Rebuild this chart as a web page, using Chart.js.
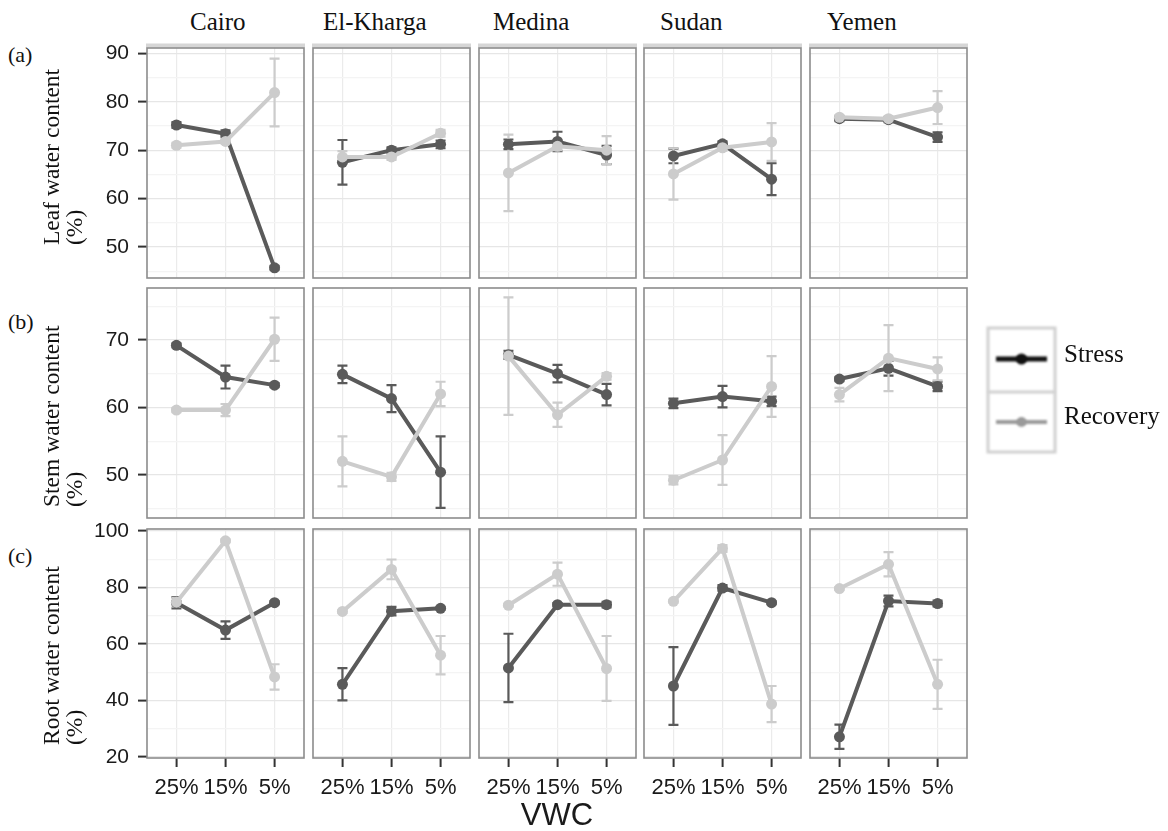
<!DOCTYPE html>
<html>
<head>
<meta charset="utf-8">
<script src="https://cdn.jsdelivr.net/npm/chart.js@4.4.1/dist/chart.umd.min.js"></script>
<style>
  body { margin: 0; background: #fff; }
  #page { position: relative; width: 1168px; height: 831px; overflow: hidden; background: #fff; }
  #page canvas { position: absolute; }
  .txt { position: absolute; white-space: nowrap; line-height: 1; color: #111; }
  .serif { font-family: "Liberation Serif", "Times New Roman", serif; }
  .sans { font-family: "Liberation Sans", Arial, sans-serif; }
  .vert { transform-origin: 0 0; transform: rotate(-90deg); line-height: 23px; font-size: 23.5px; }
</style>
</head>
<body>
<div id="page"></div>
<script>
// sites (facet columns) and soil moisture levels (x axis)
const sites = ['Cairo', 'El-Kharga', 'Medina', 'Sudan', 'Yemen'];
const vwcLabels = ['25%', '15%', '5%'];

// tick labels for each row
const leafTicks = [50, 60, 70, 80, 90];
const stemTicks = [50, 60, 70];
const rootTicks = [20, 40, 60, 80, 100];

// leaf water content (%), one row per site, values at 25% / 15% / 5%
const leafStress      = [[75.2, 73.4, 45.7], [67.5, 70.0, 71.2], [71.2, 71.8, 69.0], [68.8, 71.3, 64.0], [76.5, 76.3, 72.7]];
const leafStressErr   = [[0.6, 0.7, 0.4], [4.6, 0.6, 0.8], [1.0, 2.0, 1.9], [1.5, 0.5, 3.3], [0.5, 0.5, 1.0]];
const leafRecovery    = [[71.0, 71.8, 81.9], [68.6, 68.6, 73.5], [65.3, 70.8, 70.0], [65.1, 70.5, 71.7], [76.8, 76.5, 78.8]];
const leafRecoveryErr = [[0.5, 0.4, 7.0], [1.2, 0.6, 0.7], [7.9, 0.8, 2.9], [5.3, 0.6, 3.9], [0.4, 0.5, 3.4]];

// stem water content (%)
const stemStress      = [[69.2, 64.5, 63.3], [64.9, 61.3, 50.4], [67.8, 65.0, 61.9], [60.6, 61.6, 60.9], [64.2, 65.8, 63.1]];
const stemStressErr   = [[0.3, 1.7, 0.3], [1.3, 2.0, 5.3], [0.6, 1.3, 1.6], [0.7, 1.6, 0.7], [0.3, 1.1, 0.7]];
const stemRecovery    = [[59.6, 59.6, 70.1], [52.0, 49.7, 62.0], [67.6, 58.9, 64.6], [49.2, 52.2, 63.1], [61.9, 67.3, 65.7]];
const stemRecoveryErr = [[0.3, 0.9, 3.2], [3.7, 0.6, 1.8], [8.7, 1.8, 0.5], [0.6, 3.7, 4.5], [1.0, 4.9, 1.7]];

// root water content (%)
const rootStress      = [[74.6, 64.9, 74.6], [45.7, 71.6, 72.6], [51.5, 73.9, 73.9], [45.1, 79.8, 74.6], [27.1, 75.2, 74.3]];
const rootStressErr   = [[2.0, 3.1, 0.5], [5.7, 1.5, 0.5], [12.1, 0.6, 1.0], [13.8, 1.0, 0.5], [4.3, 1.9, 1.0]];
const rootRecovery    = [[74.8, 96.5, 48.3], [71.5, 86.4, 56.0], [73.7, 84.7, 51.3], [75.1, 93.8, 38.7], [79.6, 88.2, 45.7]];
const rootRecoveryErr = [[1.5, 0.5, 4.5], [0.5, 3.5, 6.8], [0.5, 4.1, 11.5], [0.5, 1.2, 6.4], [0.5, 4.3, 8.7]];

const STRESS_COLOR = '#5a5a5a';
const RECOVERY_COLOR = '#cccccc';

const page = document.getElementById('page');

// panel grid geometry
const PANEL_W = 157;
const panelLeft = [147, 313, 479, 644, 810];
const rows = [
  { top: 48,  h: 230, min: 43.6, max: 91.1,  ticks: leafTicks, minor: 5,
    stress: leafStress, stressErr: leafStressErr, recovery: leafRecovery, recoveryErr: leafRecoveryErr },
  { top: 288, h: 230, min: 43.6, max: 77.7,  ticks: stemTicks, minor: 5,
    stress: stemStress, stressErr: stemStressErr, recovery: stemRecovery, recoveryErr: stemRecoveryErr },
  { top: 529, h: 229, min: 19.6, max: 100.7, ticks: rootTicks, minor: 10,
    stress: rootStress, stressErr: rootStressErr, recovery: rootRecovery, recoveryErr: rootRecoveryErr }
];

// vertical error bars with small caps, drawn under the lines
const errorBars = {
  id: 'errorBars',
  beforeDatasetsDraw(chart) {
    const { ctx, scales: { x, y } } = chart;
    ctx.save();
    chart.data.datasets.forEach(ds => {
      ctx.strokeStyle = ds.borderColor;
      ctx.lineWidth = 2.2;
      ds.data.forEach((p, i) => {
        const e = ds.errors[i];
        const px = x.getPixelForValue(p.x);
        const y1 = y.getPixelForValue(p.y + e);
        const y2 = y.getPixelForValue(p.y - e);
        ctx.beginPath();
        ctx.moveTo(px, y1); ctx.lineTo(px, y2);
        ctx.moveTo(px - 5, y1); ctx.lineTo(px + 5, y1);
        ctx.moveTo(px - 5, y2); ctx.lineTo(px + 5, y2);
        ctx.stroke();
      });
    });
    ctx.restore();
  }
};

// panel outline, plus the thin strip above the top row
const panelFrame = {
  id: 'panelFrame',
  afterDraw(chart, args, opts) {
    const { ctx, chartArea: a } = chart;
    ctx.save();
    if (opts.strip) {
      ctx.fillStyle = '#d6d6d6';
      ctx.fillRect(a.left - 1, a.top - 4.5, a.right - a.left + 2, 4);
    }
    ctx.strokeStyle = '#8c8c8c';
    ctx.lineWidth = 1.6;
    ctx.strokeRect(a.left, a.top, a.right - a.left, a.bottom - a.top);
    ctx.restore();
  }
};

// keep the plot area fixed: no extra room for the end labels
function noPadding(s) {
  s.paddingTop = 0; s.paddingBottom = 0; s.paddingLeft = 0; s.paddingRight = 0;
}

function series(vals, errs, color, order) {
  return {
    data: vwcLabels.map((_, i) => ({ x: i + 1, y: vals[i] })),
    errors: errs,
    borderColor: color,
    backgroundColor: color,
    borderWidth: 4,
    pointRadius: 5.5,
    pointBorderWidth: 0,
    pointBackgroundColor: color,
    order: order
  };
}

function makePanel(r, c) {
  const m = rows[r];
  const first = c === 0, last = r === rows.length - 1;
  const yW = first ? 70 : 0, xH = last ? 50 : 0;
  const pl = first ? 0 : 3, pr = 3, pt = 12, pb = last ? 0 : 3;

  const canvas = document.createElement('canvas');
  canvas.width = pl + yW + PANEL_W + pr;
  canvas.height = pt + m.h + xH + pb;
  canvas.style.left = (panelLeft[c] - pl - yW) + 'px';
  canvas.style.top = (m.top - pt) + 'px';
  page.appendChild(canvas);

  // major ticks plus the minor lines halfway between them
  const yTicks = [];
  m.ticks.forEach(v => {
    [v - m.minor, v, v + m.minor].forEach(t => {
      if (t >= m.min && t <= m.max && !yTicks.includes(t)) yTicks.push(t);
    });
  });
  const isMajor = v => m.ticks.includes(v);

  new Chart(canvas, {
    type: 'line',
    data: {
      datasets: [
        series(m.stress[c], m.stressErr[c], STRESS_COLOR, 1),
        series(m.recovery[c], m.recoveryErr[c], RECOVERY_COLOR, 0)
      ]
    },
    options: {
      responsive: false,
      animation: false,
      events: [],
      layout: { autoPadding: false, padding: { top: pt, left: pl, right: pr, bottom: pb } },
      plugins: { legend: { display: false }, tooltip: { enabled: false }, panelFrame: { strip: r === 0 } },
      scales: {
        x: {
          type: 'linear', min: 0.4, max: 3.6,
          afterBuildTicks: s => { s.ticks = [1, 2, 3].map(v => ({ value: v })); },
          afterFit: s => { s.height = xH; noPadding(s); },
          ticks: {
            display: last, autoSkip: false, maxRotation: 0, padding: 8, color: '#1a1a1a',
            font: { family: '"Liberation Sans", Arial, sans-serif', size: 22 },
            callback: v => vwcLabels[v - 1]
          },
          grid: { color: '#ebebeb', lineWidth: 1.2, drawTicks: last, tickLength: 9, tickWidth: 2, tickColor: '#333' },
          border: { display: false }
        },
        y: {
          type: 'linear', min: m.min, max: m.max,
          afterBuildTicks: s => { s.ticks = yTicks.map(v => ({ value: v })); },
          afterFit: s => { s.width = yW; noPadding(s); },
          ticks: {
            display: first, autoSkip: false, padding: 9, color: '#1a1a1a',
            font: { family: '"Liberation Sans", Arial, sans-serif', size: 21 },
            callback: v => isMajor(v) ? String(v) : ''
          },
          grid: {
            color: ctx => isMajor(ctx.tick.value) ? '#e6e6e6' : '#f4f4f4',
            lineWidth: 1.2, drawTicks: first, tickLength: 9, tickWidth: 2,
            tickColor: ctx => isMajor(ctx.tick.value) ? '#333' : 'rgba(0,0,0,0)'
          },
          border: { display: false }
        }
      }
    },
    plugins: [errorBars, panelFrame]
  });
}

rows.forEach((_, r) => sites.forEach((_, c) => makePanel(r, c)));

// text helpers
function addText(text, cls, left, top, size) {
  const d = document.createElement('div');
  d.className = 'txt ' + cls;
  d.textContent = text;
  d.style.left = left + 'px';
  d.style.top = top + 'px';
  if (size) d.style.fontSize = size + 'px';
  page.appendChild(d);
  return d;
}

// column headers
const titleX = [190, 323, 493, 660, 827];
sites.forEach((s, i) => addText(s, 'serif', titleX[i], 9, 25));

// row tags
addText('(a)', 'serif', 8, 44, 22);
addText('(b)', 'serif', 8, 311, 22);
addText('(c)', 'serif', 8, 545, 22);

// rotated y-axis titles (two lines, bottom aligned)
const yTitles = [['Leaf water content', 245], ['Stem water content', 507], ['Root water content', 745]];
yTitles.forEach(([t, bottom]) => {
  const d = document.createElement('div');
  d.className = 'txt serif vert';
  d.style.left = '40px';
  d.style.top = bottom + 'px';
  d.innerHTML = t + '<br>(%)';
  page.appendChild(d);
});

// x-axis title
const vwc = addText('VWC', 'sans', 0, 799, 31);
vwc.style.width = '1114px';
vwc.style.textAlign = 'center';
vwc.style.color = '#1a1a1a';

// legend keys
const lg = document.createElement('canvas');
lg.width = 100; lg.height = 150;
lg.style.left = '975px'; lg.style.top = '315px';
page.appendChild(lg);
const g = lg.getContext('2d');
g.filter = 'blur(1.1px)';
g.strokeStyle = '#d0d0d0';
g.lineWidth = 3;
g.strokeRect(13, 13, 67, 124);
g.beginPath(); g.moveTo(13, 77); g.lineTo(80, 77); g.stroke();
[[44, '#111', 5, 5.5], [107, '#9a9a9a', 4, 5]].forEach(([ky, col, lw, rad]) => {
  g.strokeStyle = col; g.fillStyle = col; g.lineWidth = lw;
  g.beginPath(); g.moveTo(21, ky); g.lineTo(72, ky); g.stroke();
  g.beginPath(); g.arc(46.5, ky, rad, 0, Math.PI * 2); g.fill();
});
addText('Stress', 'serif', 1064, 341, 25);
addText('Recovery', 'serif', 1064, 403, 25);
</script>
</body>
</html>
